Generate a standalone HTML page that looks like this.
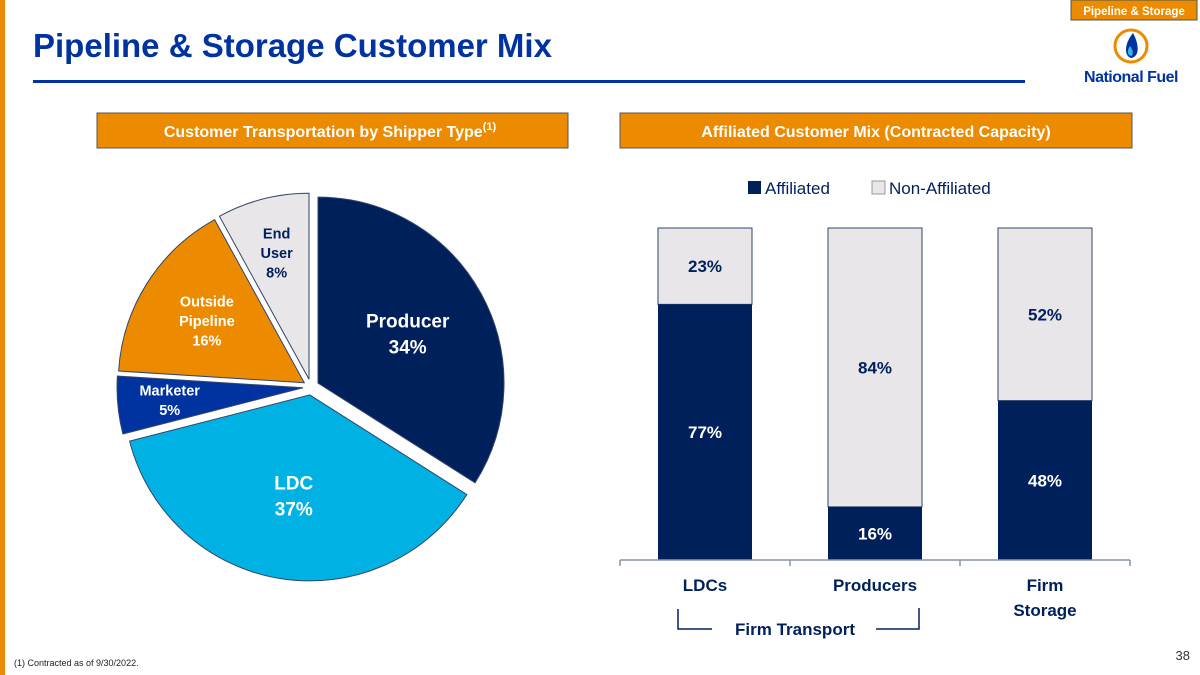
<!DOCTYPE html>
<html><head><meta charset="utf-8"><style>
body{margin:0;width:1200px;height:675px;overflow:hidden;background:#fff;font-family:"Liberation Sans",sans-serif}
svg{position:absolute;left:0;top:0}
</style></head><body>
<svg width="1200" height="675" viewBox="0 0 1200 675" id="s">
<rect x="0" y="0" width="5" height="675" fill="#ED8B00"/>
<rect x="1071" y="0" width="126" height="20" fill="#ED8B00" stroke="#4a5a4a" stroke-width="1"/>
<text x="1134" y="15" text-anchor="middle" font-size="11.5" font-weight="bold" fill="#fff">Pipeline &amp; Storage</text>
<text x="33" y="57" font-size="33" font-weight="bold" fill="#0033A0">Pipeline &amp; Storage Customer Mix</text>
<rect x="33" y="80" width="992" height="3" fill="#0033A0"/>
<g>
<circle cx="1131" cy="46" r="16" fill="#fff" stroke="#ED8B00" stroke-width="3"/>
<path d="M1133 33 C1124 44 1124 56 1131 58 C1139 57 1140 46 1133 33 Z" fill="#0033A0"/>
<path d="M1130 46 C1127 50 1127 55 1131 56 C1134 55 1133 50 1130 46Z" fill="#3CB4E5"/>
<text x="1131" y="82" text-anchor="middle" font-size="16" font-weight="bold" fill="#0033A0" letter-spacing="-0.5">National Fuel</text>
</g>
<rect x="97" y="113" width="471" height="35" fill="#ED8B00" stroke="#555" stroke-width="1"/>
<text x="330" y="137" text-anchor="middle" font-size="16" font-weight="bold" fill="#fff">Customer Transportation by Shipper Type<tspan font-size="11" dy="-7">(1)</tspan></text>
<rect x="620" y="113" width="512" height="35" fill="#ED8B00" stroke="#555" stroke-width="1"/>
<text x="876" y="137" text-anchor="middle" font-size="16" font-weight="bold" fill="#fff">Affiliated Customer Mix (Contracted Capacity)</text>
<g id="pie"></g>
<g id="bars"></g>
<text x="14" y="666" font-size="9" fill="#222">(1)    Contracted as of 9/30/2022.</text>
<text x="1190" y="660" text-anchor="end" font-size="13" fill="#333">38</text>
</svg>
<script>
const pieNames=["Producer","LDC","Marketer","Outside Pipeline","End User"];
const pieValues=[34,37,5,16,8];
const pieColors=["#00205B","#00B2E3","#0033A0","#ED8B00","#E8E6E8"];
const barCats=["LDCs","Producers","Firm Storage"];
const affiliated=[77,16,48];
const nonAffiliated=[23,84,52];

const NS="http://www.w3.org/2000/svg";
function mk(t,a,p){const e=document.createElementNS(NS,t);for(const k in a)e.setAttribute(k,a[k]);p.appendChild(e);return e;}

// pie
const pie=document.getElementById('pie');
const cx=311,cy=387,R=186,ex=8;
const total=pieValues.reduce((a,b)=>a+b,0);
let ang=0;
const lblPos=[[0.55,-0.05],[0.55,0],[0.72,0],[0.62,0],[0.7,0]];
const txtCol=["#fff","#fff","#fff","#fff","#00205B"];
pieValues.forEach((v,i)=>{
  const a0=ang, a1=ang+v/total*2*Math.PI; ang=a1;
  const am=(a0+a1)/2;
  const ox=cx+ex*Math.sin(am), oy=cy-ex*Math.cos(am);
  const x0=ox+R*Math.sin(a0),y0=oy-R*Math.cos(a0),x1=ox+R*Math.sin(a1),y1=oy-R*Math.cos(a1);
  const large=(a1-a0)>Math.PI?1:0;
  const p=mk('path',{d:`M${ox},${oy} L${x0},${y0} A${R},${R} 0 ${large} 1 ${x1},${y1} Z`,fill:pieColors[i],stroke:"#33456a","stroke-width":1},pie);
  
  
  const rr=R*lblPos[i][0];
  const lx=ox+rr*Math.sin(am), ly=oy-rr*Math.cos(am);
  const words=pieNames[i]==="End User"?["End","User"]:pieNames[i]==="Outside Pipeline"?["Outside","Pipeline"]:[pieNames[i]];
  const lines=words.concat([v+"%"]);
  const big=(i<2);
  const fs=big?19:14.5, lh=big?26:19.5;
  const t=mk('text',{x:lx,"text-anchor":"middle","font-size":fs,"font-weight":"bold",fill:txtCol[i]},pie);
  
  
  const y0t=ly-(lines.length-1)*lh/2+fs*0.35;
  lines.forEach((l,j)=>{const s=mk('tspan',{x:lx,y:y0t+j*lh},t);s.textContent=l;});
});

// bars
const bars=document.getElementById('bars');
const plotL=620,plotR=1130,base=560,plotT=228;
const yS=v=>base-(v/100)*(base-plotT);
const band=(plotR-plotL)/barCats.length, bw=94;
const navy="#00205B";
let r=mk('rect',{x:748,y:181,width:13,height:13,fill:navy},bars);


let lt=mk('text',{x:765,y:194,"font-size":17,fill:"#00205B"},bars);lt.textContent="Affiliated";


r=mk('rect',{x:872,y:181,width:13,height:13,fill:"#E8E6E8",stroke:"#999"},bars);


lt=mk('text',{x:889,y:194,"font-size":17,fill:"#00205B"},bars);lt.textContent="Non-Affiliated";


barCats.forEach((c,i)=>{
  const x=plotL+band*i+(band-bw)/2, mx=x+bw/2;
  const ya=yS(affiliated[i]), yt=yS(affiliated[i]+nonAffiliated[i]);
  let b=mk('rect',{x:x,y:yt,width:bw,height:ya-yt,fill:"#E8E6E8",stroke:"#33456a","stroke-width":1},bars);
  
  
  b=mk('rect',{x:x,y:ya,width:bw,height:base-ya,fill:navy},bars);
  
  
  let t=mk('text',{x:mx,y:(ya+base)/2+6,"text-anchor":"middle","font-size":17,"font-weight":"bold",fill:"#fff"},bars);
  t.textContent=affiliated[i]+"%";
  
  
  t=mk('text',{x:mx,y:(yt+ya)/2+6,"text-anchor":"middle","font-size":17,"font-weight":"bold",fill:"#00205B"},bars);
  t.textContent=nonAffiliated[i]+"%";
  
  
  const words=c==="Firm Storage"?["Firm","Storage"]:[c];
  const xl=mk('text',{"text-anchor":"middle","font-size":17,"font-weight":"bold",fill:"#00205B"},bars);
  
  
  words.forEach((w,j)=>{const s=mk('tspan',{x:mx,y:591+j*25},xl);s.textContent=w;});
});
let ax=mk('path',{d:`M${plotL},${base} H${plotR}`+[0,1,2,3].map(k=>` M${plotL+band*k},${base} v6`).join(''),stroke:"#8a94a6","stroke-width":1.5,fill:"none"},bars);


let br=mk('path',{d:"M678,609 V629 H712 M876,629 H919 V608",stroke:"#00205B","stroke-width":1.5,fill:"none"},bars);


let ft=mk('text',{x:795,y:635,"text-anchor":"middle","font-size":17,"font-weight":"bold",fill:"#00205B"},bars);
ft.textContent="Firm Transport";


</script>
</body></html>
